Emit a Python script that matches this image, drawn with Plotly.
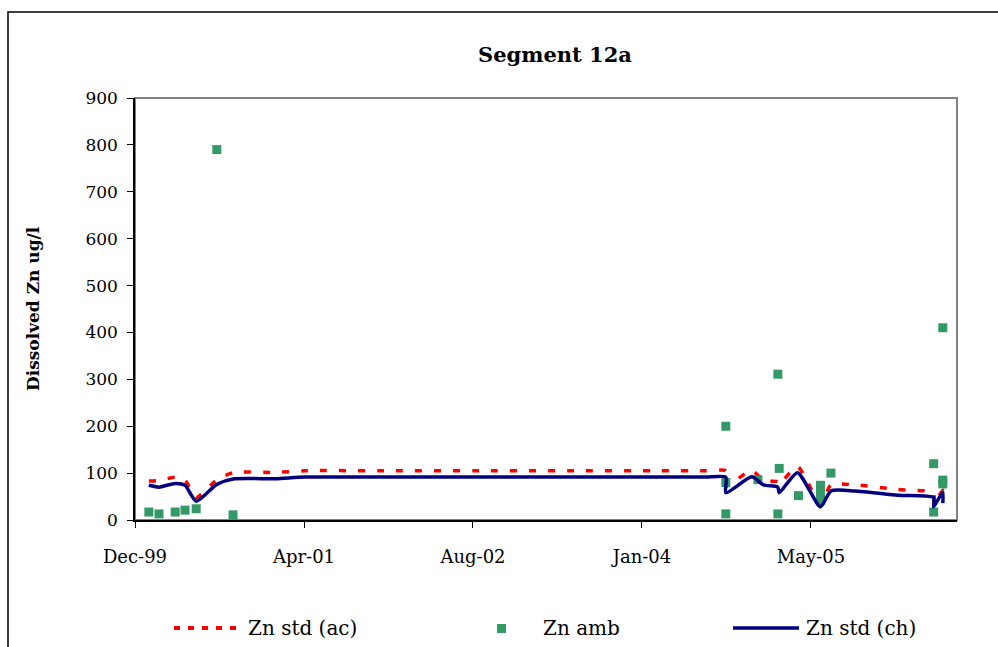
import plotly.graph_objects as go

# Ambient dissolved zinc samples (ug/l)
amb_dates = [
    "2000-01-11", "2000-02-10", "2000-03-29", "2000-04-27", "2000-05-30",
    "2000-07-30", "2000-09-16",
    "2004-09-13", "2004-09-13", "2004-09-13",
    "2004-12-17",
    "2005-02-14", "2005-02-14", "2005-02-18",
    "2005-04-16",
    "2005-06-20", "2005-06-20", "2005-06-20",
    "2005-07-21",
    "2006-05-21", "2006-05-21",
    "2006-06-17", "2006-06-17", "2006-06-17",
]
amb_values = [
    17, 13, 17, 21, 24,
    790, 11,
    200, 80, 13,
    86,
    311, 13, 110,
    52,
    74, 58, 42,
    100,
    120, 17,
    85, 77, 410,
]

# Hardness-based standards (acute and chronic), ug/l
std_dates = [
    "2000-01-11", "2000-02-10", "2000-03-29", "2000-04-27", "2000-05-30",
    "2000-07-30", "2000-09-16", "2001-01-20", "2001-04-15",
    "2002-01-01", "2002-10-01", "2003-07-01", "2004-03-01", "2004-07-15",
    "2004-09-13", "2004-09-13",
    "2004-11-29", "2005-01-02", "2005-02-14", "2005-02-18",
    "2005-04-13", "2005-06-20", "2005-07-21", "2005-09-30",
    "2006-02-04", "2006-05-21", "2006-05-21",
    "2006-06-17", "2006-06-17",
]
std_ac = [
    83, 84, 91, 85, 48,
    86, 101, 101.5, 105,
    105, 105, 105, 105, 105,
    105, 72,
    106, 84, 82, 76,
    114, 34, 75, 75,
    65, 58, 34,
    64, 43,
]
std_ch = [
    74, 70, 78, 74, 40,
    76, 87.5, 88, 91.5,
    91.5, 91.5, 91.5, 91.5, 91.5,
    91.5, 58,
    92, 75, 70, 58,
    101, 28, 62, 62,
    53, 48, 28,
    60, 36,
]

series_names = ["Zn std (ac)", "Zn amb", "Zn std (ch)"]
chart_title = "Segment 12a"
y_title = "Dissolved Zn ug/l"

RED = "#FF0000"
GREEN = "#339966"
NAVY = "#000080"
FONT = "DejaVu Serif"

W, H = 998, 647
L, R, T, B = 135, 41, 98, 127
PW, PH = W - L - R, H - T - B


def px(x):
    return (x - L) / PW


def py(y):
    return (H - B - y) / PH


fig = go.Figure()

fig.add_trace(go.Scatter(
    x=std_dates, y=std_ac, mode="lines", name=series_names[0],
    line=dict(color=RED, width=3.5, dash="7px,12px", shape="spline", smoothing=0.6),
    showlegend=False,
))
fig.add_trace(go.Scatter(
    x=amb_dates, y=amb_values, mode="markers", name=series_names[1],
    marker=dict(symbol="square", size=9, color=GREEN),
    showlegend=False,
))
fig.add_trace(go.Scatter(
    x=std_dates, y=std_ch, mode="lines", name=series_names[2],
    line=dict(color=NAVY, width=3.5, shape="spline", smoothing=0.6),
    showlegend=False,
))

shapes = [
    # outer chart frame
    dict(type="rect", xref="paper", yref="paper",
         x0=px(8), x1=px(1012), y0=py(662), y1=py(12),
         line=dict(color="black", width=1.5), layer="below"),
    # plot area border
    dict(type="rect", xref="paper", yref="paper",
         x0=0, x1=1, y0=0, y1=1,
         line=dict(color="#808080", width=2), layer="below"),
    # legend samples
    dict(type="line", xref="paper", yref="paper",
         x0=px(174), x1=px(242), y0=py(628), y1=py(628),
         line=dict(color=RED, width=4, dash="6px,8px")),
    dict(type="rect", xref="paper", yref="paper",
         x0=px(497), x1=px(506), y0=py(633), y1=py(624),
         line=dict(width=0), fillcolor=GREEN),
    dict(type="line", xref="paper", yref="paper",
         x0=px(733), x1=px(799), y0=py(628), y1=py(628),
         line=dict(color=NAVY, width=3.5)),
]

annotations = [
    dict(text=f"<b>{chart_title}</b>", xref="paper", yref="paper",
         x=px(555), y=py(55), showarrow=False, xanchor="center", yanchor="middle",
         font=dict(family=FONT, size=21, color="black")),
    dict(text=f"<b>{y_title}</b>", xref="paper", yref="paper",
         x=px(33), y=0.5, showarrow=False, textangle=-90,
         xanchor="center", yanchor="middle",
         font=dict(family=FONT, size=17, color="black")),
]
for label, x0 in zip(series_names, [246, 541, 804]):
    annotations.append(dict(
        text=label, xref="paper", yref="paper", x=px(x0), y=py(628),
        showarrow=False, xanchor="left", yanchor="middle",
        font=dict(family=FONT, size=20, color="black")))

fig.update_layout(
    width=W, height=H,
    margin=dict(l=L, r=R, t=T, b=B),
    paper_bgcolor="white", plot_bgcolor="white",
    showlegend=False,
    shapes=shapes, annotations=annotations,
    font=dict(family=FONT, size=17, color="black"),
)
fig.update_xaxes(
    type="date", range=["1999-12-01", "2006-07-29"],
    tick0="1999-12-01", dtick=500 * 86400000, tickformat="%b-%y",
    showgrid=False, zeroline=False,
    showline=True, linecolor="black", linewidth=1.5,
    ticks="outside", ticklen=6, tickcolor="black",
    ticklabelstandoff=14,
    tickfont=dict(family=FONT, size=18, color="black"),
)
fig.update_yaxes(
    range=[0, 900], dtick=100,
    showgrid=False, zeroline=False,
    showline=True, linecolor="black", linewidth=1.5,
    ticks="outside", ticklen=6, tickcolor="black",
    ticklabelstandoff=6,
    tickfont=dict(family=FONT, size=17, color="black"),
)

fig.write_html("out.html")
